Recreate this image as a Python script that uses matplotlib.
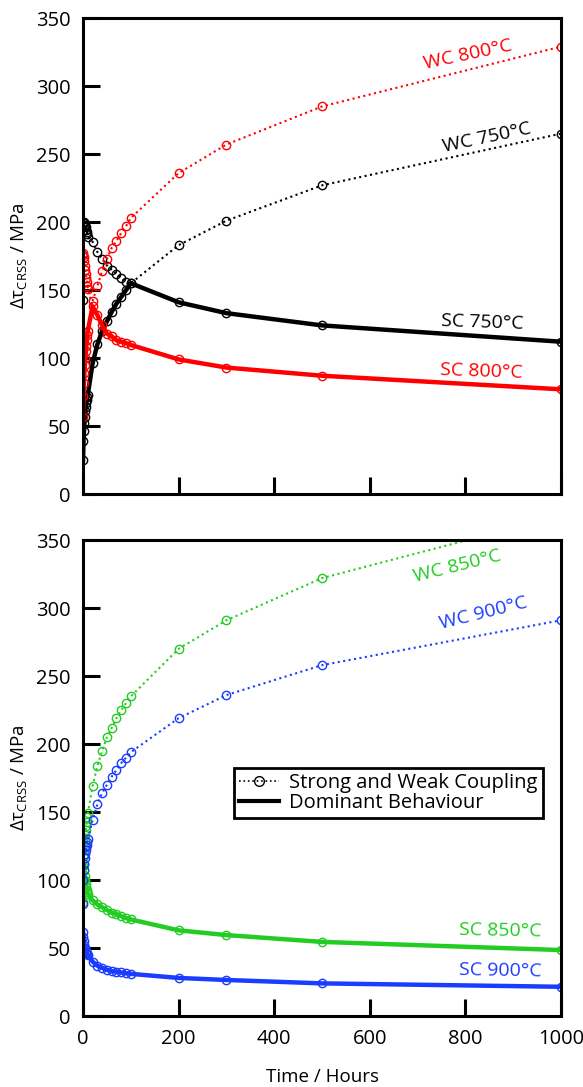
import numpy as np
import matplotlib
matplotlib.use('Agg')
import matplotlib.pyplot as plt
from matplotlib.lines import Line2D

plt.rcParams['font.family'] = ['Open Sans', 'DejaVu Sans']
plt.rcParams['mathtext.fontset'] = 'custom'
plt.rcParams['mathtext.rm'] = 'Open Sans'
plt.rcParams['mathtext.it'] = 'Open Sans:italic'

# Ageing time (hours)
hours = [0, 1, 2, 3, 4, 5, 6, 7, 8, 9, 10, 20, 30, 40, 50, 60, 70, 80, 90, 100, 200, 300, 500, 1000]

# Top panel: 750 and 800 C
sc750 = [143, 200, 200, 199, 198, 197, 196, 194, 193, 191, 189, 185.5, 178, 173, 168, 165, 162, 159, 156, 155, 141, 133, 124, 112]
wc750 = [25, 39, 46, 52, 57, 61, 64, 67, 69, 71, 73, 96, 110, 120, 127, 134, 140, 145, 150, 155, 183, 201, 227, 265]
sc800 = [177, 176, 174, 171, 168, 165, 162, 159, 156, 153, 151, 138, 131.6, 124, 118, 116, 113, 112, 111, 109.6, 99, 93, 87, 77]
wc800 = [57, 72, 82, 89, 95, 100, 105, 109, 113, 117, 120, 142, 153, 164, 173, 181, 186, 192, 197, 203, 236, 257, 285, 329]

# Bottom panel: 850 and 900 C
sc850 = [130, 118, 112, 107, 103, 100, 97, 95, 93, 91, 90, 85, 82, 80, 78, 76, 75, 73.5, 72, 71, 63, 59.5, 54.5, 48.5]
wc850 = [84, 110, 118, 124, 129, 133, 137, 140, 143, 146, 149, 169, 184, 195, 205, 212, 219, 225, 230, 235, 270, 291, 322, 368]
sc900 = [62, 58, 55, 52, 50, 49, 48, 47, 46, 45.5, 45, 40, 37, 35.5, 34, 33, 32.5, 32, 31.5, 31, 28, 26.5, 24, 21.5]
wc900 = [82, 100, 107, 112, 116, 119, 122, 124, 126, 128, 130, 144, 155.6, 164, 170, 176, 181, 186, 190, 194, 219, 236, 258, 291]

RED = '#ff0000'
BLACK = '#000000'
GREEN = '#22cc22'
BLUE = '#1a3cff'

fig = plt.figure(figsize=(5.83, 10.87), dpi=100)
ax1 = fig.add_axes([0.1424, 0.5455, 0.82, 0.4379])
ax2 = fig.add_axes([0.1424, 0.0653, 0.82, 0.4379])

def draw_pair(ax, sc, wc, color):
    t = np.array(hours)
    for s in (sc, wc):
        ax.plot(t, s, linestyle=':', linewidth=1.5, color=color, marker='o',
                markersize=6, markerfacecolor='none', markeredgewidth=1.0)
    # dominant behaviour is the weaker of the two mechanisms
    dom = np.minimum(np.array(sc), np.array(wc))
    ax.plot(t, dom, linestyle='-', linewidth=3.2, color=color)

draw_pair(ax1, sc750, wc750, BLACK)
draw_pair(ax1, sc800, wc800, RED)
draw_pair(ax2, sc850, wc850, GREEN)
draw_pair(ax2, sc900, wc900, BLUE)

for ax in (ax1, ax2):
    ax.set_xlim(0, 1000)
    ax.set_ylim(0, 350)
    ax.set_xticks([0, 200, 400, 600, 800, 1000])
    ax.set_yticks(np.arange(0, 351, 50))
    ax.tick_params(direction='in', length=12, width=2.2, labelsize=14.5, pad=9,
                   top=False, right=False)
    for sp in ax.spines.values():
        sp.set_linewidth(2.2)
    ax.set_ylabel(r'$\mathregular{\Delta\tau_{CRSS}}$ / MPa', fontsize=13.5)
    ax.yaxis.set_label_coords(-0.112, 0.5)

ax1.tick_params(labelbottom=False)
ax2.set_xlabel('Time / Hours', fontsize=13.5, labelpad=14)

# Curve labels
ax1.text(805, 323, 'WC 800°C', color=RED, fontsize=14, rotation=12, ha='center', va='center')
ax1.text(845, 262, 'WC 750°C', color=BLACK, fontsize=14, rotation=12, ha='center', va='center')
ax1.text(835, 126, 'SC 750°C', color=BLACK, fontsize=14, rotation=-2, ha='center', va='center')
ax1.text(833, 90, 'SC 800°C', color=RED, fontsize=14, rotation=-2, ha='center', va='center')
ax2.text(782, 331, 'WC 850°C', color=GREEN, fontsize=14, rotation=14, ha='center', va='center')
ax2.text(837, 296, 'WC 900°C', color=BLUE, fontsize=14, rotation=14, ha='center', va='center')
ax2.text(872, 63, 'SC 850°C', color=GREEN, fontsize=14, rotation=-1, ha='center', va='center')
ax2.text(872, 33, 'SC 900°C', color=BLUE, fontsize=14, rotation=-1, ha='center', va='center')

# Legend
handles = [Line2D([], [], linestyle=':', linewidth=1.2, color='black', marker='o',
                  markersize=7, markerfacecolor='none', markeredgewidth=1.0),
           Line2D([], [], linestyle='-', linewidth=3, color='black')]
leg = ax2.legend(handles, ['Strong and Weak Coupling', 'Dominant Behaviour'],
                 loc='upper left', bbox_to_anchor=(0.316, 0.521), fontsize=14.5,
                 fancybox=False, framealpha=1, edgecolor='black', handlelength=2.0,
                 borderpad=0.25, labelspacing=0.0, handletextpad=0.5, borderaxespad=0)
leg.get_frame().set_linewidth(2)

plt.savefig('out.png', dpi=100)
